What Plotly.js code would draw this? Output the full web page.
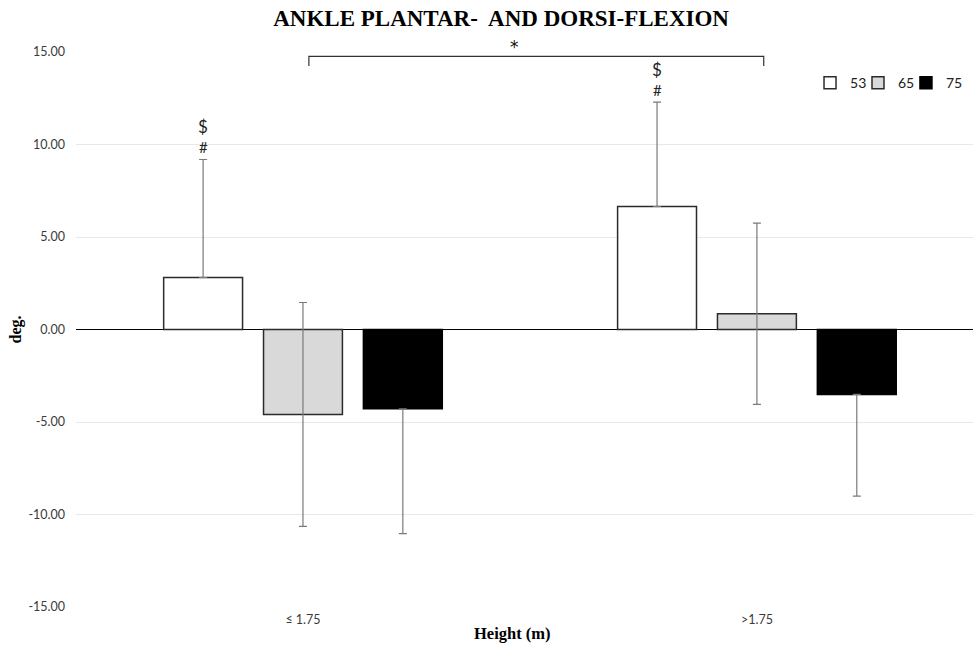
<!DOCTYPE html>
<html>
<head>
<meta charset="utf-8">
<script src="https://cdn.plot.ly/plotly-3.0.1.min.js"></script>
<style>
  html, body { margin: 0; padding: 0; background: #fff; }
  #chart { width: 973px; height: 645px; }
</style>
</head>
<body>
<div id="chart"></div>
<script>
// Height groups on the x axis
const categories = ['\u2264 1.75', '>1.75'];

// Series names (legend) and their mean ankle angles in degrees
const seriesNames = ['53', '65', '75'];
const values53 = [2.81, 6.65];
const values65 = [-4.59, 0.85];
const values75 = [-4.29, -3.51];

// Standard deviations drawn as error bars
const sd53 = [6.38, 5.64];
const sd65 = [6.05, 4.9];
const sd75 = [6.74, 5.5];

// Y-axis ticks
const yTickVals = [-15, -10, -5, 0, 5, 10, 15];
const yTickText = ['-15.00', '-10.00', '-5.00', '0.00', '5.00', '10.00', '15.00'];

// Significance markers above the "53" bars
const markTop = ['$', '$'];
const markBottom = ['#', '#'];

const sansFamily = 'Lato, "Open Sans", sans-serif';
const tickFont = { family: sansFamily, size: 12.5, color: '#3a3a3a' };
const serifBold = { family: '"Liberation Serif", "Times New Roman", serif', color: '#000' };
const errColor = '#7a7a7a';

const zeros = categories.map(() => 0);

const traces = [
  {
    type: 'bar', name: seriesNames[0], x: categories, y: values53, legend: 'legend',
    marker: { color: '#ffffff', line: { color: '#2b2b2b', width: 1.5 } },
    error_y: { type: 'data', symmetric: false, array: sd53, arrayminus: zeros,
               color: errColor, thickness: 1.2, width: 4 }
  },
  {
    type: 'bar', name: seriesNames[1], x: categories, y: values65, legend: 'legend2',
    marker: { color: '#d9d9d9', line: { color: '#2b2b2b', width: 1.5 } },
    error_y: { type: 'data', symmetric: true, array: sd65,
               color: errColor, thickness: 1.2, width: 4 }
  },
  {
    type: 'bar', name: seriesNames[2], x: categories, y: values75, legend: 'legend3',
    marker: { color: '#000000', line: { color: '#000000', width: 1.5 } },
    error_y: { type: 'data', symmetric: false, array: zeros, arrayminus: sd75,
               color: errColor, thickness: 1.2, width: 4 }
  }
];

// Offset of the first bar within each group, in category units
const bargap = 0.34;
const slot = (1 - bargap) / 3;
const firstOffset = -slot;

const annotations = [];
categories.forEach((c, i) => {
  const topOfErr = values53[i] + sd53[i];
  annotations.push({
    x: i + firstOffset, y: topOfErr, xref: 'x', yref: 'y',
    text: markBottom[i], showarrow: false, yanchor: 'bottom', yshift: 1,
    font: { family: sansFamily, size: 15, color: '#222' }
  });
  annotations.push({
    x: i + firstOffset, y: topOfErr, xref: 'x', yref: 'y',
    text: markTop[i], showarrow: false, yanchor: 'bottom', yshift: 20,
    font: { family: sansFamily, size: 17, color: '#222' }
  });
});
annotations.push({
  x: 0.467, y: 14.76, xref: 'x', yref: 'y', text: '*', showarrow: false,
  yanchor: 'bottom', yshift: -3,
  font: { family: '"DejaVu Sans", sans-serif', size: 17, color: '#111' }
});
// X-axis title, centred under the two groups
annotations.push({
  x: 0.487, y: -0.047, xref: 'paper', yref: 'paper',
  xanchor: 'center', yanchor: 'middle', showarrow: false,
  text: '<b>Height (m)</b>', font: Object.assign({ size: 16.5 }, serifBold)
});

// One legend per series so the entries sit close together
const legendFont = { family: sansFamily, size: 14, color: '#222' };
const legendBase = {
  orientation: 'h', xref: 'container', yref: 'container',
  xanchor: 'left', y: 0.871, yanchor: 'middle',
  font: legendFont, bgcolor: 'rgba(0,0,0,0)', itemwidth: 30
};

const layout = {
  width: 973, height: 645,
  margin: { l: 76, r: 0, t: 52, b: 38, autoexpand: false },
  paper_bgcolor: '#fff', plot_bgcolor: '#fff',
  barmode: 'group', bargap: bargap, bargroupgap: 0.21,
  title: {
    text: '<b>ANKLE PLANTAR-\u00a0 AND DORSI-FLEXION</b>',
    font: Object.assign({ size: 23 }, serifBold),
    x: 0.515, xanchor: 'center', y: 0.972, yanchor: 'middle'
  },
  xaxis: {
    type: 'category', range: [-0.5, 1.476],
    showgrid: false, zeroline: false, showline: false, ticks: '',
    tickfont: tickFont, ticklabelstandoff: 3
  },
  yaxis: {
    range: [-15, 15], tickvals: yTickVals, ticktext: yTickText,
    showgrid: true, gridcolor: '#e8e8e8', gridwidth: 1,
    zeroline: true, zerolinecolor: '#000', zerolinewidth: 1.5,
    showline: false, ticks: '', ticklabelstandoff: 10,
    tickfont: tickFont,
    title: { text: '<b>deg.</b>', font: Object.assign({ size: 16 }, serifBold), standoff: 2 }
  },
  legend: Object.assign({ x: 0.8325 }, legendBase),
  legend2: Object.assign({ x: 0.8818 }, legendBase),
  legend3: Object.assign({ x: 0.9311 }, legendBase),
  shapes: [
    {
      type: 'path', xref: 'x', yref: 'y',
      path: 'M 0.013 14.25 L 0.013 14.76 L 1.015 14.76 L 1.015 14.25',
      line: { color: '#333', width: 1.2 }
    }
  ],
  annotations: annotations,
  showlegend: true
};

Plotly.newPlot('chart', traces, layout, { displayModeBar: false, staticPlot: true });
</script>
</body>
</html>
